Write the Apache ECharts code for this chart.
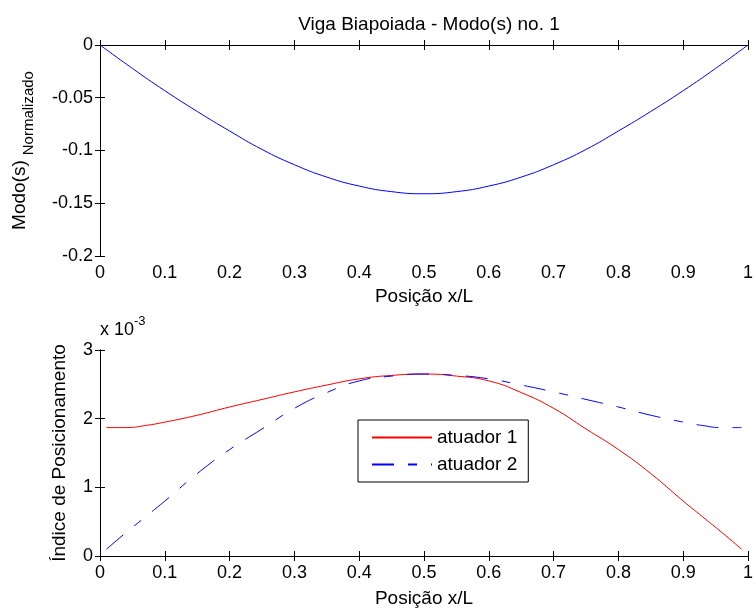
<!DOCTYPE html>
<html>
<head>
<meta charset="utf-8">
<script src="https://cdn.jsdelivr.net/npm/echarts@6/dist/echarts.min.js"></script>
<style>html,body{margin:0;padding:0;background:#fff;}#c{width:756px;height:610px;}</style>
</head>
<body>
<div id="c"></div>
<script>
// Top plot: mode shape
const modeX = [0,0.05,0.1,0.15,0.2,0.25,0.3,0.35,0.4,0.45,0.5,0.55,0.6,0.65,0.7,0.75,0.8,0.85,0.9,0.95,1];
const modeY = [0,-0.0222,-0.0433,-0.0630,-0.0815,-0.0990,-0.1135,-0.1252,-0.1337,-0.1390,-0.1410,-0.1390,-0.1337,-0.1252,-0.1135,-0.0990,-0.0815,-0.0630,-0.0433,-0.0222,0];
// Bottom plot: positioning index (values in units of 10^-3)
const posX = [0.01,0.04,0.07,0.1,0.15,0.2,0.25,0.3,0.35,0.4,0.45,0.5,0.55,0.6,0.65,0.7,0.75,0.8,0.85,0.9,0.93,0.96,0.99];
const atuador1 = [1.87,1.87,1.90,1.95,2.05,2.17,2.28,2.39,2.49,2.58,2.63,2.65,2.62,2.55,2.38,2.15,1.85,1.55,1.20,0.80,0.57,0.34,0.10];
const atuador2 = [0.10,0.34,0.57,0.80,1.20,1.55,1.85,2.15,2.38,2.55,2.62,2.65,2.63,2.58,2.49,2.39,2.28,2.17,2.05,1.95,1.90,1.87,1.87];
const xTicks = ['0','0.1','0.2','0.3','0.4','0.5','0.6','0.7','0.8','0.9','1'];

const FONT = 'Liberation Sans';
const pair = (xs, ys) => xs.map((x, i) => [x, ys[i]]);

const tickStyle = {inside: true, length: 5, lineStyle: {color: '#000'}};
const lineAx = {lineStyle: {color: '#000', width: 1}};
const lbl = {color: '#000', fontFamily: FONT, fontSize: 18};
const nameLbl = {color: '#000', fontFamily: FONT, fontSize: 19, lineHeight: 20};

function xAx(grid, show, gap) {
  return {
    type: 'value', gridIndex: grid, min: 0, max: 1, interval: 0.1,
    position: show ? 'bottom' : 'top',
    axisLine: lineAx, axisTick: tickStyle, splitLine: {show: false},
    axisLabel: show ? Object.assign({margin: 8, formatter: (v) => xTicks[Math.round(v * 10)]}, lbl) : {show: false},
    name: show ? 'Posição x/L' : '', nameLocation: 'middle', nameGap: gap || 0,
    nameTextStyle: nameLbl
  };
}
function yAx(grid, show, min, max, interval, name, gap) {
  return {
    type: 'value', gridIndex: grid, min: min, max: max, interval: interval,
    position: show ? 'left' : 'right',
    axisLine: lineAx, axisTick: tickStyle, splitLine: {show: false},
    axisLabel: show ? Object.assign({margin: 7}, lbl) : {show: false},
    name: show ? name : '', nameLocation: 'middle', nameGap: gap,
    nameTextStyle: Object.assign({}, nameLbl, {
      rich: {
        a: {fontFamily: FONT, fontSize: 19, color: '#000', lineHeight: 19, verticalAlign: 'top'},
        b: {fontFamily: FONT, fontSize: 15, color: '#000', lineHeight: 15, verticalAlign: 'bottom', padding: [0, 0, 0, 5]},
        s: {lineHeight: 26, width: 0}
      }
    })
  };
}

const chart = echarts.init(document.getElementById('c'), null, {renderer: 'canvas'});
chart.setOption({
  animation: false,
  backgroundColor: '#fff',
  title: {
    text: 'Viga Biapoiada - Modo(s) no. 1', left: 424, top: 10, textAlign: 'center',
    textStyle: {fontFamily: FONT, fontSize: 19, fontWeight: 'normal', color: '#000'}
  },
  grid: [
    {left: 100, right: 4, top: 45, height: 211},
    {left: 100, right: 4, top: 350, height: 208}
  ],
  xAxis: [xAx(0, true, 31), xAx(0, false), xAx(1, true, 33), xAx(1, false)],
  yAxis: [
    yAx(0, true, -0.2, 0, 0.05, '{s|}{a|Modo(s)}{b|Normalizado}', 64),
    yAx(0, false, -0.2, 0, 0.05, '', 0),
    yAx(1, true, 0, 3, 1, 'Índice de Posicionamento', 30),
    yAx(1, false, 0, 3, 1, '', 0)
  ],
  legend: {
    left: 358, top: 420, orient: 'vertical',
    data: ['atuador 1', 'atuador 2'],
    itemWidth: 60, itemHeight: 14, itemGap: 8,
    padding: [8, 11, 8, 13],
    itemStyle: {opacity: 0, borderWidth: 0},
    borderColor: '#000', borderWidth: 1, backgroundColor: '#fff',
    textStyle: {fontFamily: FONT, fontSize: 19, color: '#000'}
  },
  graphic: [{
    type: 'text', left: 100, top: 315,
    style: {
      text: '{a|x 10}{b|-3}',
      rich: {
        a: {fontFamily: FONT, fontSize: 18, fill: '#000', lineHeight: 24, padding: [6, 0, 0, 0], verticalAlign: 'bottom'},
        b: {fontFamily: FONT, fontSize: 13, fill: '#000', lineHeight: 14, verticalAlign: 'top'}
      }
    }
  }],
  series: [
    {
      type: 'line', xAxisIndex: 0, yAxisIndex: 0, data: pair(modeX, modeY),
      symbol: 'none', smooth: true, lineStyle: {color: '#0000ff', width: 1}, silent: true
    },
    {
      name: 'atuador 1', type: 'line', xAxisIndex: 2, yAxisIndex: 2, data: pair(posX, atuador1),
      symbol: 'none', smooth: true, color: '#ff0000', lineStyle: {color: '#ff0000', width: 1}
    },
    {
      name: 'atuador 2', type: 'line', xAxisIndex: 2, yAxisIndex: 2, data: pair(posX, atuador2),
      symbol: 'none', smooth: true, color: '#0000ff', lineStyle: {color: '#0000ff', width: 1, type: [22, 14, 9, 14]}
    }
  ]
});
</script>
</body>
</html>
